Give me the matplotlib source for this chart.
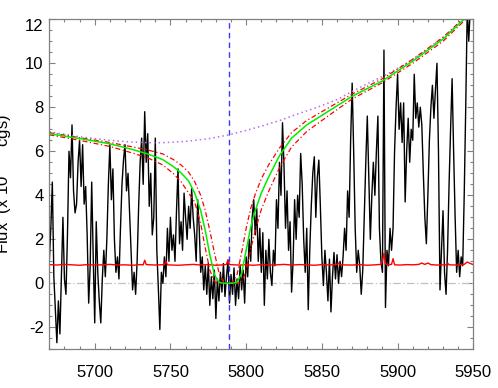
import matplotlib.pyplot as plt
import numpy as np

# observed spectrum, 1 A steps from 5670 to 5950
wave = np.arange(5670, 5951)
flux = [
    1.0, 2.5, 4.6, 0.3, -1.2, -2.7, -0.8, -2.3, 0.4, 3.0,
    0.2, -0.5, 2.2, 6.0, 4.8, 7.2, 4.2, 3.2, 3.6, 5.5,
    6.5, 4.4, 6.3, 3.6, 4.4, 2.2, -0.9, 0.8, 4.6, 1.2,
    -1.8, 2.8, 0.5, -0.8, -1.8, 0.2, 1.5, 0.3, 2.0, 4.5,
    6.3, 3.8, 5.2, 2.0, 0.5, 1.2, 0.2, 2.5, 4.5, 5.6,
    6.3, 4.2, 5.0, 3.2, 1.5, -0.3, 0.5, -0.5, 1.0, 3.5,
    5.5, 6.6, 4.5, 7.8, 5.5, 6.8, 3.5, 5.0, 2.2, 3.0,
    6.6, 1.5, -0.2, -2.1, 0.5, 0.0, 1.2, 0.3, 2.5, 1.0,
    3.0, 1.5, 2.2, 1.0, 3.3, 5.2, 1.8, 2.8, 1.5, 4.1,
    3.0, 2.0, 3.5, 2.5, 4.3, 3.0, 2.2, 1.0, 3.8, 2.5,
    0.5, 1.2, -0.3, 0.8, -0.5, 0.9, -1.0, 0.3, -0.7, 0.6,
    -1.6, 0.2, -0.8, 0.5, -0.4, 0.9, -0.6, 0.3, 1.0, -0.9,
    0.4, -0.5, 0.7, -1.0, 0.2, -0.7, 0.8, -0.3, 0.6, -0.9,
    1.2, 0.3, 2.0, 1.0, 3.0, 3.8, 2.2, 3.4, 1.0, 2.5,
    0.5, 2.3, -1.0, 1.5, 0.2, 2.0, 0.5, -0.1, 1.5, 0.8,
    3.8, 2.5, 5.5, 4.0, 7.3, 5.3, 2.5, 4.2, 1.5, 2.8,
    -0.4, 1.0, 3.8, 2.0, 4.0, 3.0, 5.9, 4.5, 2.0, 0.5,
    2.5, -1.2, 1.5, 3.5, 5.0, 5.75, 3.0, 4.8, 5.6, 3.5,
    1.2, -0.1, 1.5, 0.5, -0.8, 1.1, -1.3, 0.3, 1.4, 0.2,
    1.3, 0.0, 1.0, 0.3, 1.2, 2.5, 1.5, 4.2, 3.0, 6.5,
    9.1, 6.0, 2.5, 0.5, 1.5, 0.8, -0.5, 0.6, 3.0, 5.5,
    7.6, 4.8, 2.0, 4.0, 5.5, 4.0, 6.0, 7.6, 2.5, 1.0,
    0.5, 10.6, -1.1, 1.5, 0.8, 2.5, 1.5, 2.5, 6.0, 8.0,
    9.5, 7.0, 8.2, 6.4, 8.2, 3.7, 6.0, 7.5, 5.5, 7.0,
    6.5, 9.5, 7.5, 8.2, 7.1, 8.0, 7.2, 5.0, 3.0, 1.8,
    4.0, 6.5, 8.0, 9.0, 7.5, 8.8, 10.0, 6.0, -0.3, 1.5,
    3.3, 0.5, -0.5, 1.5, 4.5, 7.0, 9.3, 6.0, 3.0, 0.5,
    1.5, 0.3, 1.2, 0.8, 4.0, 8.0, 12.5, 11.0, 12.5, 12.3,
    12.5,
]

# error spectrum
err_wave = [5670, 5675, 5680, 5685, 5690, 5695, 5700, 5705, 5710, 5715,
            5720, 5725, 5730, 5732, 5733, 5734, 5740, 5746, 5747, 5748,
            5755, 5760, 5765, 5770, 5775, 5780, 5785, 5787, 5788, 5789,
            5795, 5800, 5805, 5810, 5815, 5820, 5825, 5830, 5835, 5840,
            5845, 5850, 5855, 5860, 5861, 5862, 5870, 5875, 5880, 5885,
            5889, 5890, 5891, 5892, 5893, 5896, 5897, 5898, 5902, 5906,
            5910, 5914, 5916, 5918, 5920, 5922, 5924, 5926, 5932, 5933,
            5934, 5940, 5944, 5946, 5948, 5950]
err = [0.85, 0.83, 0.86, 0.84, 0.82, 0.85, 0.83, 0.84, 0.86, 0.83,
       0.84, 0.82, 0.85, 0.84, 1.05, 0.85, 0.83, 0.85, 1.0, 0.84,
       0.82, 0.84, 0.86, 0.83, 0.85, 0.82, 0.84, 0.86, 1.08, 0.85,
       0.83, 0.84, 0.82, 0.85, 0.83, 0.84, 0.86, 0.83, 0.85, 0.84,
       0.82, 0.85, 0.83, 0.86, 0.92, 0.84, 0.83, 0.85, 0.82, 0.84,
       0.86, 1.0, 1.36, 0.9, 0.84, 0.86, 1.12, 0.84, 0.83, 0.85,
       0.84, 0.86, 0.92, 0.86, 0.92, 0.85, 0.84, 0.83, 0.84, 0.92,
       0.84, 0.83, 0.86, 0.97, 0.9, 0.85]

# model profiles
model_wave = [5670, 5690, 5710, 5725, 5735, 5745, 5752, 5757, 5762, 5766,
              5770, 5773, 5776, 5779, 5782, 5785, 5788, 5791, 5794, 5797,
              5800, 5803, 5806, 5810, 5815, 5822, 5830, 5840, 5855, 5870,
              5890, 5910, 5930, 5950]
model_best = [6.80, 6.58, 6.34, 6.08, 5.88, 5.62, 5.30, 5.02, 4.65, 4.10,
              3.30, 2.40, 1.30, 0.40, 0.05, 0.0, 0.0, 0.0, 0.05, 0.45,
              1.50, 2.55, 3.30, 4.10, 4.85, 5.80, 6.60, 7.20, 7.85, 8.50,
              9.20, 10.10, 11.10, 12.40]
model_narrow = [6.85, 6.62, 6.40, 6.20, 6.06, 5.88, 5.62, 5.38, 5.05, 4.62,
                4.00, 3.30, 2.40, 1.40, 0.50, 0.05, 0.0, 0.05, 0.40, 1.40,
                2.50, 3.40, 4.05, 4.75, 5.40, 6.15, 6.85, 7.40, 8.00, 8.60,
                9.30, 10.18, 11.18, 12.45]
model_wide = [6.75, 6.50, 6.22, 5.92, 5.70, 5.38, 4.98, 4.62, 4.10, 3.70,
              2.70, 1.60, 0.60, 0.08, 0.0, 0.0, 0.0, 0.0, 0.0, 0.05,
              0.55, 1.55, 2.40, 3.35, 4.20, 5.25, 6.20, 6.90, 7.65, 8.38,
              9.12, 10.00, 11.00, 12.33]

cont_wave = [5670, 5690, 5710, 5725, 5735, 5745, 5760, 5775, 5788, 5800,
             5812, 5823, 5834, 5845, 5860, 5875, 5890, 5905, 5920, 5935,
             5943, 5950]
continuum = [6.89, 6.66, 6.50, 6.42, 6.39, 6.39, 6.45, 6.57, 6.74, 6.95,
             7.18, 7.42, 7.70, 7.95, 8.35, 8.90, 9.40, 9.95, 10.65, 11.45,
             12.00, 12.60]

line_center = 5788.5

plt.rcParams['font.family'] = ['Liberation Sans', 'DejaVu Sans']

fig = plt.figure(figsize=(4.98, 3.88), dpi=100)
ax = fig.add_axes([0.099, 0.0997, 0.8514, 0.8506])

ax.axhline(0, color='#c0c0c0', lw=0.9, dashes=(6, 2, 1, 2))
ax.plot(wave, flux, color='black', lw=1.0)
ax.plot(err_wave, err, color='red', lw=1.0)
ax.plot(cont_wave, continuum, color='#b070f0', lw=1.1, dashes=(1, 2))
ax.plot(model_wave, model_narrow, color='red', lw=0.9, dashes=(4, 2, 1, 2))
ax.plot(model_wave, model_wide, color='red', lw=0.9, dashes=(4, 2, 1, 2))
ax.plot(model_wave, model_best, color='#00ee00', lw=1.1)
ax.axvline(line_center, color='#3a3aff', lw=1.0, dashes=(4, 3))

ax.set_xlim(5670, 5950)
ax.set_ylim(-3, 12)
ax.set_xticks(np.arange(5700, 5951, 50))
ax.set_xticks(np.arange(5670, 5951, 10), minor=True)
ax.set_yticks(np.arange(-2, 12.1, 2))
ax.set_yticks(np.arange(-3, 12.1, 0.5), minor=True)
ax.set_yticklabels(['%d' % v for v in np.arange(-2, 12.1, 2)])

ax.tick_params(which='both', direction='in', top=True, right=True,
               color='#808080', labelsize=12)
ax.tick_params(which='major', length=4.5, width=0.8)
ax.tick_params(which='minor', length=2.5, width=0.8)
ax.tick_params(axis='x', pad=11)
ax.tick_params(axis='y', pad=4)
ax.get_yticklabels()[-1].set_va('top')
for s in ax.spines.values():
    s.set_color('#808080')
    s.set_linewidth(0.9)

ax.set_ylabel('Flux  (x 10$^{-17}$ cgs)', fontsize=12)
ax.yaxis.set_label_coords(-0.084, 0.5)

fig.savefig('out.png', dpi=100)
